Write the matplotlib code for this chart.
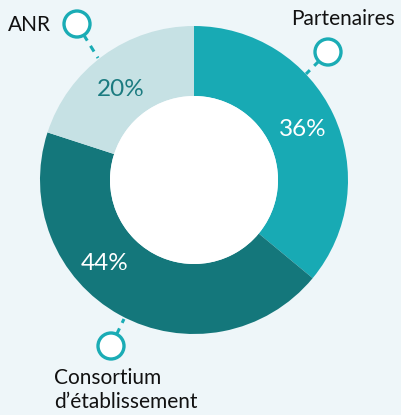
import matplotlib.pyplot as plt

plt.rcParams['font.family'] = ['Lato', 'DejaVu Sans']

# Data
labels = ['Partenaires', 'Consortium\nd’établissement', 'ANR']
shares = [36, 44, 20]
colors = ['#18aab4', '#14777b', '#c6e1e4']
pct_colors = ['white', 'white', '#1b7b80']

bg = '#eef6f9'
accent = '#1aacb5'

fig = plt.figure(figsize=(4.02, 4.15), dpi=100, facecolor=bg)
ax = fig.add_axes([0, 0, 1, 1])
ax.set_facecolor(bg)

H = 415
cx, cy = 194, H - 180
r_out, r_in = 154, 84

wedges, _ = ax.pie(shares, colors=colors, startangle=90, counterclock=False,
                   radius=r_out, center=(cx, cy),
                   wedgeprops=dict(width=r_out - r_in, linewidth=0))
ax.add_patch(plt.Circle((cx, cy), r_in, facecolor='white', lw=0))
ax.set_xlim(0, 402)
ax.set_ylim(0, 415)
ax.set_aspect('equal')
ax.axis('off')

# percentage labels
pct_pos = [(303, 129), (105, 263), (121, 89)]
for s, (px, py), c in zip(shares, pct_pos, pct_colors):
    ax.text(px, H - py, f'{s}%', color=c, fontsize=17.5, ha='center', va='center')

# leader lines with circles
leaders = [((328, 52), (306, 74)), ((111, 346), (124, 319)), ((77, 24), (98, 58))]
for (mx, my), (ex, ey) in leaders:
    ax.plot([mx, ex], [H - my, H - ey], color=accent, lw=2.2, ls=(0, (2.2, 2)),
            zorder=3, solid_capstyle='butt')
    ax.add_patch(plt.Circle((mx, H - my), 13, facecolor='white', edgecolor=accent,
                            lw=2.4, zorder=4))

# category labels
ax.text(343, H - 19, labels[0], fontsize=15, ha='center', va='center', color='#111111')
ax.text(54, H - 390, labels[1], fontsize=15, ha='left', va='center', color='#111111',
        linespacing=1.3)
ax.text(29, H - 25, labels[2], fontsize=15, ha='center', va='center', color='#111111')

fig.savefig('out.png', dpi=100, facecolor=bg)
